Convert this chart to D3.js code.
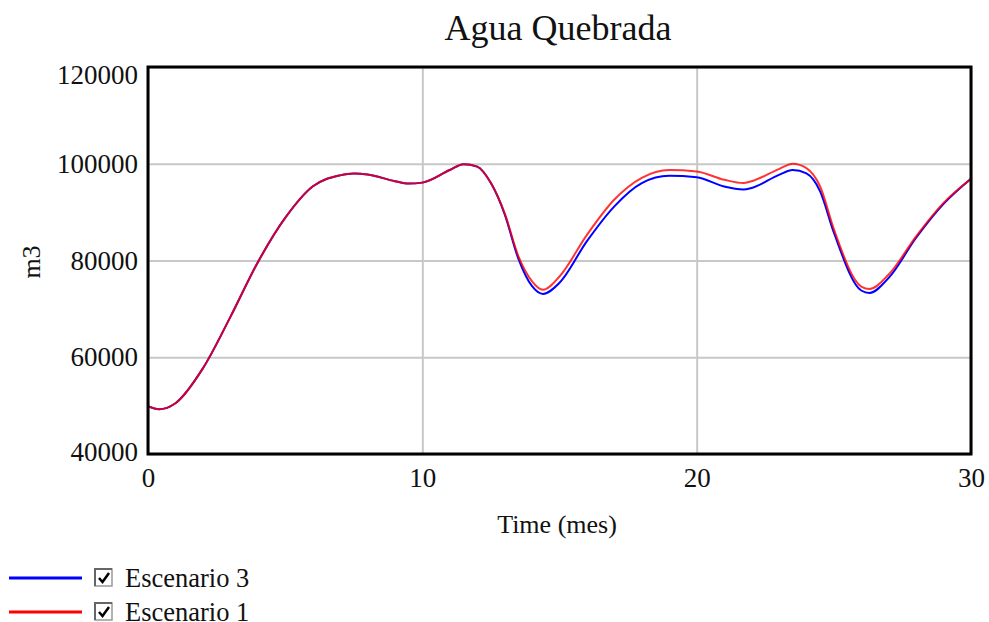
<!DOCTYPE html>
<html>
<head>
<meta charset="utf-8">
<script src="https://cdn.jsdelivr.net/npm/d3@7"></script>
<style>
  body { margin: 0; background: #fff; }
  text { font-family: "Liberation Serif", "Times New Roman", serif; fill: #111; }
</style>
</head>
<body>
<div id="chart"></div>
<script>
// months sampled, with extra points at the peaks and dips
let months = [0, 0.4, 1, 2, 3, 4, 5, 6, 7, 7.5, 8, 9, 9.5, 10, 11, 11.5, 12, 12.5, 13, 13.5, 14, 14.4, 15,
    16, 17, 18, 19, 20, 21, 21.7, 22, 23, 23.5, 24, 24.5, 25, 26, 26.3, 27, 28, 29, 30];

let escenario1 = [49900, 49250, 50500, 57700, 68300, 79600, 88800, 95300, 97600, 98000, 97800, 96400, 95900, 96100,
    98700, 99900, 99400, 96000, 89800, 80900, 75700, 73950, 76700,
    85300, 92600, 97100, 98700, 98400, 96700, 96000, 96400, 98900, 100000, 99100, 95300, 86500,
    74600, 74100, 77100, 85000, 91900, 96900];

let escenario3 = [49900, 49250, 50500, 57700, 68300, 79600, 88800, 95300, 97600, 98000, 97800, 96400, 95900, 96100,
    98700, 99900, 99400, 96000, 89600, 80400, 74700, 73100, 75400,
    84000, 91200, 96000, 97500, 97200, 95300, 94700, 95000, 97700, 98700, 98000, 94300, 85800,
    73800, 73300, 76400, 84700, 91700, 96900];

let xTicks = [0, 10, 20, 30];
let yTicks = [40000, 60000, 80000, 100000, 120000];

let series = [
    { name: "Escenario 3", values: escenario3, color: "#0000ff" },
    { name: "Escenario 1", values: escenario1, color: "#ff0000" }
];

let W = 989, H = 622;
let margin = { top: 67, right: 18, bottom: 168, left: 148 },
    width = W - margin.left - margin.right,
    height = H - margin.top - margin.bottom;

let svg = d3.select("#chart").append("svg")
    .attr("width", W)
    .attr("height", H);

let g = svg.append("g")
    .attr("transform", `translate(${margin.left},${margin.top})`);

let x = d3.scaleLinear().domain([0, 30]).range([0, width]);
let y = d3.scaleLinear().domain([40000, 120000]).range([height, 0]);

// grid
g.append("g")
    .attr("class", "grid")
    .call(d3.axisLeft(y).tickValues(yTicks).tickSize(-width).tickFormat(""))
    .call(s => s.select(".domain").remove())
    .selectAll("line").attr("stroke", "#c8c8c8").attr("stroke-width", 2);

g.append("g")
    .attr("class", "grid")
    .attr("transform", `translate(0,${height})`)
    .call(d3.axisBottom(x).tickValues(xTicks).tickSize(-height).tickFormat(""))
    .call(s => s.select(".domain").remove())
    .selectAll("line").attr("stroke", "#c8c8c8").attr("stroke-width", 2);

// lines
let line = d3.line()
    .x((d, i) => x(months[i]))
    .y(d => y(d))
    .curve(d3.curveMonotoneX);

series.forEach(s => {
    g.append("path")
        .datum(s.values)
        .attr("fill", "none")
        .attr("stroke", s.color)
        .attr("stroke-width", 2)
        .attr("stroke-opacity", s.color == "#ff0000" ? 0.8 : 1)
        .attr("d", line);
});

// frame
g.append("rect")
    .attr("x", 0).attr("y", 0)
    .attr("width", width).attr("height", height)
    .attr("fill", "none")
    .attr("stroke", "#000")
    .attr("stroke-width", 3);

// tick labels
g.append("g")
    .attr("transform", `translate(0,${height})`)
    .call(d3.axisBottom(x).tickValues(xTicks).tickSize(0).tickPadding(14))
    .call(s => s.select(".domain").remove())
    .selectAll("text")
    .style("font-family", "Liberation Serif")
    .style("font-size", "27px");

g.append("g")
    .call(d3.axisLeft(y).tickValues(yTicks).tickSize(0).tickPadding(10).tickFormat(d3.format("d")))
    .call(s => s.select(".domain").remove())
    .selectAll("text")
    .style("font-family", "Liberation Serif")
    .style("font-size", "27px")
    // end labels are kept inside the frame's height
    .attr("y", d => d == 120000 ? 8 : d == 40000 ? -2 : 0);

// title and axis labels
svg.append("text")
    .attr("x", 558)
    .attr("y", 40)
    .attr("text-anchor", "middle")
    .style("font-size", "36px")
    .text("Agua Quebrada");

svg.append("text")
    .attr("x", 557)
    .attr("y", 533)
    .attr("text-anchor", "middle")
    .style("font-size", "26px")
    .text("Time (mes)");

svg.append("text")
    .attr("transform", "translate(40,262) rotate(-90)")
    .attr("text-anchor", "middle")
    .style("font-size", "26px")
    .text("m3");

// legend
let legend = svg.append("g");
series.forEach((s, i) => {
    let ly = 578 + i * 34;
    legend.append("line")
        .attr("x1", 9).attr("x2", 82)
        .attr("y1", ly).attr("y2", ly)
        .attr("stroke", s.color)
        .attr("stroke-width", 3);
    legend.append("rect")
        .attr("x", 95).attr("y", ly - 9)
        .attr("width", 17).attr("height", 17)
        .attr("fill", "#fff")
        .attr("stroke", "#999")
        .attr("stroke-width", 1.5);
    legend.append("path")
        .attr("d", `M95,${ly + 8} L95,${ly - 9} L112,${ly - 9}`)
        .attr("fill", "none")
        .attr("stroke", "#666")
        .attr("stroke-width", 2);
    legend.append("path")
        .attr("d", `M99,${ly} L102.5,${ly + 4} L109,${ly - 5}`)
        .attr("fill", "none")
        .attr("stroke", "#000")
        .attr("stroke-width", 2.5);
    legend.append("text")
        .attr("x", 125)
        .attr("y", ly + 9)
        .style("font-size", "26.5px")
        .text(s.name);
});
</script>
</body>
</html>
